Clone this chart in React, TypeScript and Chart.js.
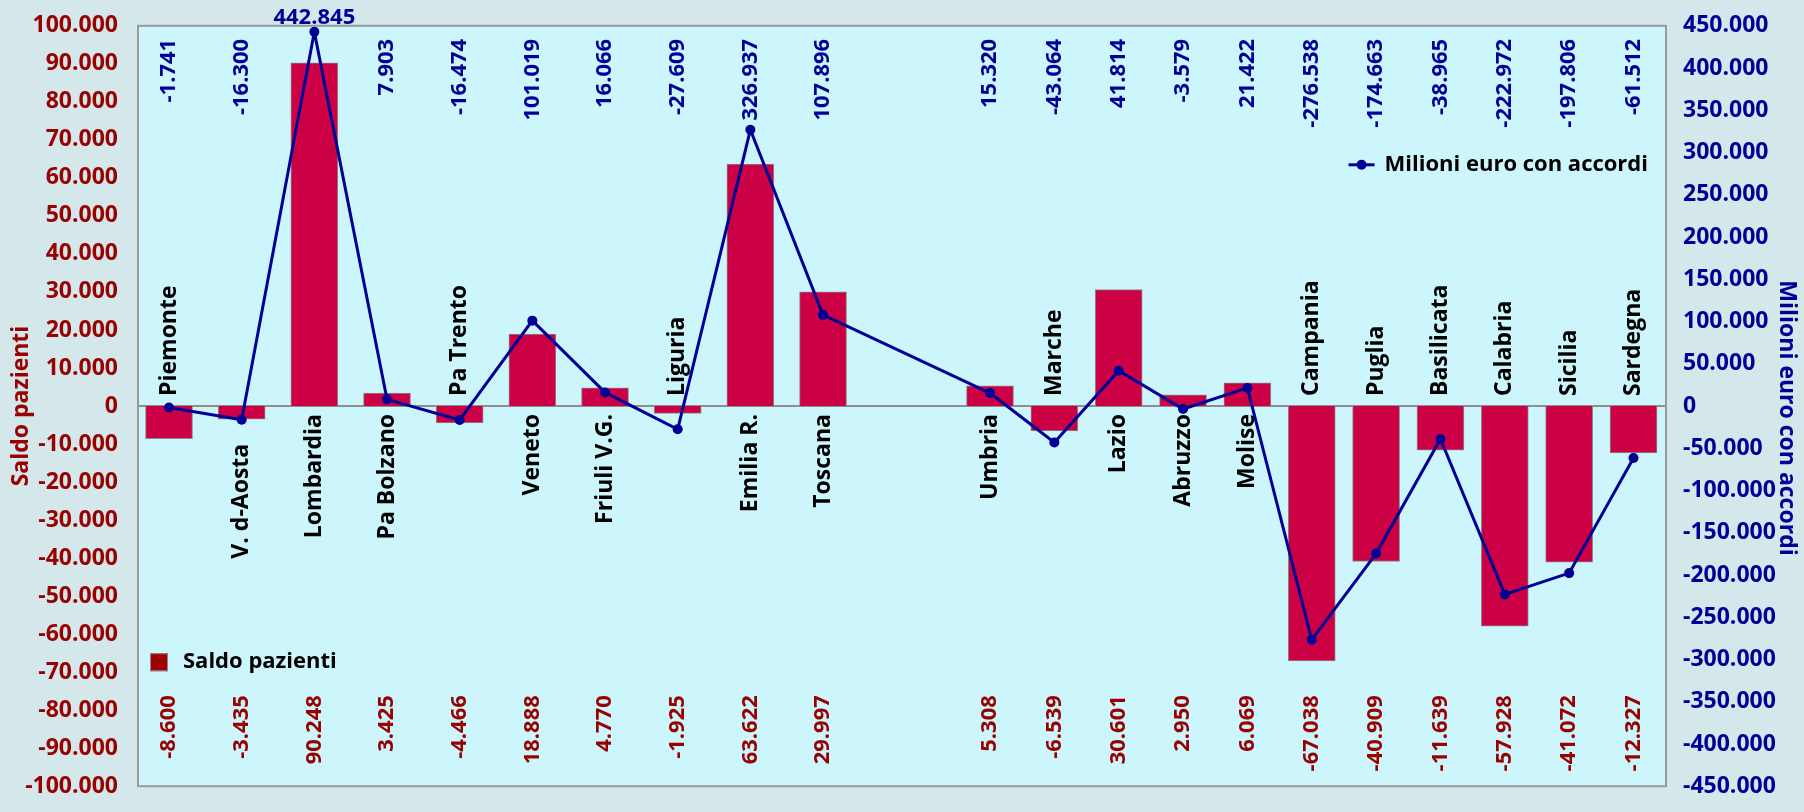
import React, { useEffect, useRef } from 'react';
import { Chart, registerables } from 'chart.js';

Chart.register(...registerables);

// Left block: northern regions and Toscana
const regioniNord = ['Piemonte', 'V. d-Aosta', 'Lombardia', 'Pa Bolzano', 'Pa Trento', 'Veneto', 'Friuli V.G.', 'Liguria', 'Emilia R.', 'Toscana'];
const saldoNord = [-8600, -3435, 90248, 3425, -4466, 18888, 4770, -1925, 63622, 29997];
const euroNord = [-1741, -16300, 442845, 7903, -16474, 101019, 16066, -27609, 326937, 107896];

// Right block: centre, south and islands
const regioniSud = ['Umbria', 'Marche', 'Lazio', 'Abruzzo', 'Molise', 'Campania', 'Puglia', 'Basilicata', 'Calabria', 'Sicilia', 'Sardegna'];
const saldoSud = [5308, -6539, 30601, 2950, 6069, -67038, -40909, -11639, -57928, -41072, -12327];
const euroSud = [15320, -43064, 41814, -3579, 21422, -276538, -174663, -38965, -222972, -197806, -61512];

// Axis ranges
const saldoAxis = { min: -100000, max: 100000, step: 10000 };
const euroAxis = { min: -450000, max: 450000, step: 50000 };

// Regions whose name hangs under a negative bar instead of sitting above the axis
const nomiSottoBarra = new Set(['V. d-Aosta']);

const SERIE_SALDO = 'Saldo pazienti';
const SERIE_EURO = 'Milioni euro con accordi';

const RED_TEXT = '#990000';
const BLUE = '#000096';
const BAR_FILL = '#CC0044';
const BAR_EDGE = '#8a8a8a';
const PLOT_BG = '#CCF6FC';
const PAGE_BG = '#D4E7EB';
const FAMILY = '"Open Sans", Lato, "DejaVu Sans", sans-serif';
const bold = (size: number) => `bold ${size}px ${FAMILY}`;

// Italian thousands separator: 442845 -> "442.845"
const formatIt = (v: number) =>
  (v < 0 ? '-' : '') + Math.round(Math.abs(v)).toString().replace(/\B(?=(\d{3})+(?!\d))/g, '.');

function drawRotated(
  ctx: CanvasRenderingContext2D,
  text: string,
  x: number,
  y: number,
  align: CanvasTextAlign,
  angle = -Math.PI / 2,
) {
  ctx.save();
  ctx.translate(x, y);
  ctx.rotate(angle);
  ctx.textAlign = align;
  ctx.textBaseline = 'middle';
  ctx.fillText(text, 0, 0);
  ctx.restore();
}

const blocks = [
  { bar: 0, line: 1, names: regioniNord },
  { bar: 2, line: 3, names: regioniSud },
];

const decorations = {
  id: 'decorations',
  beforeDatasetsDraw(chart: any) {
    const { ctx, chartArea: a, scales } = chart;
    ctx.save();
    ctx.fillStyle = PLOT_BG;
    ctx.fillRect(a.left, a.top, a.right - a.left, a.bottom - a.top);
    // zero line
    const y0 = scales.ySaldo.getPixelForValue(0);
    ctx.strokeStyle = '#8e8e8e';
    ctx.lineWidth = 2;
    ctx.beginPath();
    ctx.moveTo(a.left, y0);
    ctx.lineTo(a.right, y0);
    ctx.stroke();
    ctx.restore();
  },
  afterDatasetsDraw(chart: any) {
    const { ctx, chartArea: a, scales } = chart;
    const ySaldo = scales.ySaldo;
    const yEuro = scales.yEuro;
    const y0 = ySaldo.getPixelForValue(0);
    ctx.save();

    // plot frame
    ctx.strokeStyle = '#9a9a9a';
    ctx.lineWidth = 2;
    ctx.strokeRect(a.left, a.top, a.right - a.left, a.bottom - a.top);

    // segment joining the two blocks of the line series
    const nordPts = chart.getDatasetMeta(1).data;
    const sudPts = chart.getDatasetMeta(3).data;
    const p = nordPts[nordPts.length - 1];
    const q = sudPts[0];
    ctx.strokeStyle = BLUE;
    ctx.lineWidth = 3;
    ctx.beginPath();
    ctx.moveTo(p.x, p.y);
    ctx.lineTo(q.x, q.y);
    ctx.stroke();

    const labelTop = a.top + 13;
    const labelBottom = a.bottom - 91;

    blocks.forEach((b) => {
      const barMeta = chart.getDatasetMeta(b.bar);
      const barData = chart.data.datasets[b.bar].data as any[];
      const lineData = chart.data.datasets[b.line].data as any[];

      b.names.forEach((name, i) => {
        const x = barMeta.data[i].x;
        const saldo = barData[i].y as number;
        const euro = lineData[i].y as number;
        const barEnd = ySaldo.getPixelForValue(saldo);
        const pointY = yEuro.getPixelForValue(euro);

        // line values along the top
        ctx.font = bold(22);
        ctx.fillStyle = BLUE;
        const euroText = formatIt(euro);
        const w = ctx.measureText(euroText).width;
        if (pointY - 5 < labelTop + w) {
          ctx.textAlign = 'center';
          ctx.textBaseline = 'bottom';
          ctx.fillText(euroText, x, pointY - 3);
        } else {
          drawRotated(ctx, euroText, x, labelTop, 'right');
        }

        // bar values along the bottom
        ctx.fillStyle = RED_TEXT;
        drawRotated(ctx, formatIt(saldo), x, labelBottom, 'right');

        // region names next to the axis
        ctx.font = bold(23);
        ctx.fillStyle = '#000000';
        if (saldo >= 0) {
          drawRotated(ctx, name, x, y0 + 8, 'right');
        } else if (nomiSottoBarra.has(name)) {
          drawRotated(ctx, name, x, Math.max(barEnd, pointY) + 24, 'right');
        } else {
          drawRotated(ctx, name, x, y0 - 10, 'left');
        }
      });
    });

    // legend: bar series
    const lx = a.left + 12;
    const ly = a.bottom - 124;
    ctx.fillStyle = '#A00000';
    ctx.fillRect(lx, ly - 9, 18, 18);
    ctx.strokeStyle = '#8a8a8a';
    ctx.lineWidth = 1;
    ctx.strokeRect(lx + 0.5, ly - 8.5, 17, 17);
    ctx.font = bold(22);
    ctx.fillStyle = '#000000';
    ctx.textAlign = 'left';
    ctx.textBaseline = 'middle';
    ctx.fillText(SERIE_SALDO, lx + 33, ly);

    // legend: line series
    const rx = a.right - 18;
    const ry = a.top + 139;
    ctx.textAlign = 'right';
    ctx.fillText(SERIE_EURO, rx, ry);
    const tw = ctx.measureText(SERIE_EURO).width;
    const mx = rx - tw - 23;
    ctx.strokeStyle = BLUE;
    ctx.lineWidth = 3;
    ctx.beginPath();
    ctx.moveTo(mx - 13, ry);
    ctx.lineTo(mx + 13, ry);
    ctx.stroke();
    ctx.fillStyle = BLUE;
    ctx.beginPath();
    ctx.arc(mx, ry, 5, 0, Math.PI * 2);
    ctx.fill();

    // axis titles
    const midY = (a.top + a.bottom) / 2;
    ctx.font = bold(23);
    ctx.fillStyle = RED_TEXT;
    drawRotated(ctx, SERIE_SALDO, 21, midY, 'center');
    ctx.fillStyle = BLUE;
    drawRotated(ctx, SERIE_EURO, chart.width - 17, midY + 12, 'center', Math.PI / 2);

    ctx.restore();
  },
};

export default function App() {
  const canvasRef = useRef<HTMLCanvasElement | null>(null);

  useEffect(() => {
    const canvas = canvasRef.current;
    if (!canvas) return;

    const barStyle = {
      backgroundColor: BAR_FILL,
      borderColor: BAR_EDGE,
      borderWidth: 1,
      barThickness: 47,
      grouped: false,
      yAxisID: 'ySaldo',
      order: 2,
    };
    const lineStyle = {
      borderColor: BLUE,
      backgroundColor: BLUE,
      borderWidth: 3,
      pointRadius: 5,
      pointBackgroundColor: BLUE,
      pointBorderWidth: 0,
      tension: 0,
      fill: false,
      yAxisID: 'yEuro',
      order: 1,
    };

    const tickFont = { family: FAMILY, weight: 'bold', size: 23 };

    const chart = new Chart(canvas, {
      type: 'bar',
      data: {
        datasets: [
          { ...barStyle, type: 'bar', label: SERIE_SALDO, xAxisID: 'xNord', data: saldoNord.map((y, x) => ({ x, y })) },
          { ...lineStyle, type: 'line', label: SERIE_EURO, xAxisID: 'xNord', data: euroNord.map((y, x) => ({ x, y })) },
          { ...barStyle, type: 'bar', label: SERIE_SALDO, xAxisID: 'xSud', data: saldoSud.map((y, x) => ({ x, y })) },
          { ...lineStyle, type: 'line', label: SERIE_EURO, xAxisID: 'xSud', data: euroSud.map((y, x) => ({ x, y })) },
        ] as any,
      },
      options: {
        animation: false,
        responsive: false,
        devicePixelRatio: 1,
        events: [],
        layout: { padding: { top: 18, bottom: 9, left: 0, right: 0 }, autoPadding: false },
        plugins: { legend: { display: false }, tooltip: { enabled: false }, title: { display: false } },
        scales: {
          xNord: { type: 'linear', display: false, min: -0.4266, max: 20.6, offset: false },
          xSud: { type: 'linear', display: false, min: -13.24, max: 10.505, offset: false },
          ySaldo: {
            type: 'linear',
            position: 'left',
            min: saldoAxis.min,
            max: saldoAxis.max,
            grid: { display: false },
            border: { display: false },
            afterFit: (s: any) => { s.width = 138; },
            ticks: {
              stepSize: saldoAxis.step,
              autoSkip: false,
              padding: 12,
              color: RED_TEXT,
              font: tickFont,
              callback: (v: any) => formatIt(Number(v)),
            },
          },
          yEuro: {
            type: 'linear',
            position: 'right',
            min: euroAxis.min,
            max: euroAxis.max,
            grid: { display: false },
            border: { display: false },
            afterFit: (s: any) => { s.width = 138; },
            ticks: {
              stepSize: euroAxis.step,
              autoSkip: false,
              padding: 9,
              color: BLUE,
              font: tickFont,
              callback: (v: any) => formatIt(Number(v)),
            },
          },
        },
      } as any,
      plugins: [decorations],
    });

    return () => chart.destroy();
  }, []);

  return (
    <div style={{ position: 'fixed', left: 0, top: 0, width: 1804, height: 812, background: PAGE_BG }}>
      <canvas ref={canvasRef} width={1804} height={812} style={{ display: 'block' }} />
    </div>
  );
}
